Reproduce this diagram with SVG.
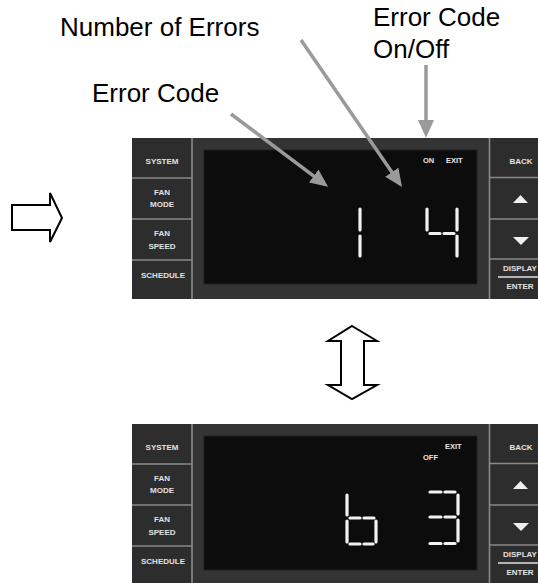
<svg xmlns="http://www.w3.org/2000/svg" width="538" height="583" viewBox="0 0 538 583">
<style>
.lbl{font-family:"Liberation Sans",Arial,sans-serif;font-size:26px;fill:#000}
.btn{font-family:"Liberation Sans",Arial,sans-serif;font-size:8px;font-weight:bold;fill:#e2e2e2;text-anchor:middle}
.scr{font-family:"Liberation Sans",Arial,sans-serif;font-size:7.5px;font-weight:bold;fill:#e8e8e8}
.sep{stroke:#8a8a8a;stroke-width:1.6}
.seg{stroke:#f2f2f2;stroke-width:3.2;stroke-linecap:round;fill:none}
.call{stroke:#9a9a9a;stroke-width:3.5;fill:none}
.big{fill:#fff;stroke:#000;stroke-width:2;stroke-linejoin:miter}
</style>
<defs>
<marker id="ah" markerUnits="userSpaceOnUse" markerWidth="20" markerHeight="18" refX="6" refY="8" orient="auto">
<path d="M0,0 L18,8 L0,16 z" fill="#9a9a9a"/>
</marker>
<g id="frame">
<rect x="132" y="0" width="406" height="161" fill="#343434"/>
<rect x="132" y="0" width="60" height="161" fill="#2d2d2d"/>
<rect x="490" y="0" width="48" height="161" fill="#2d2d2d"/>
<line class="sep" x1="192" y1="0" x2="192" y2="161"/>
<line class="sep" x1="489.5" y1="0" x2="489.5" y2="161"/>
<line class="sep" x1="132" y1="40" x2="192" y2="40"/>
<line class="sep" x1="132" y1="81" x2="192" y2="81"/>
<line class="sep" x1="132" y1="122" x2="192" y2="122"/>
<line class="sep" x1="490" y1="39.5" x2="538" y2="39.5"/>
<line class="sep" x1="490" y1="81" x2="538" y2="81"/>
<line class="sep" x1="490" y1="121" x2="538" y2="121"/>
<rect x="204" y="12" width="273" height="134" fill="#0c0c0c" stroke="#1e1e1e" stroke-width="1"/>
<polygon points="513,65 528,65 520.5,57" fill="#eeeeee"/>
<polygon points="513,99 529,99 521,107" fill="#eeeeee"/>
<line x1="498" y1="139" x2="538" y2="139" stroke="#e0e0e0" stroke-width="1.6"/>
</g>
</defs>

<g id="labels">
<text class="lbl" x="60" y="36">Number of Errors</text>
<text class="lbl" x="92" y="102">Error Code</text>
<text class="lbl" x="373" y="26">Error Code</text>
<text class="lbl" x="373" y="58">On/Off</text>
</g>

<g id="arrow-right">
<polygon class="big" points="12,205 50,205 50,193 62,218 50,242 50,230 12,230"/>
</g>

<g id="panel-top" transform="translate(0,138)">
<use href="#frame"/>
<text class="btn" x="162" y="26">SYSTEM</text>
<text class="btn" x="162" y="57">FAN</text>
<text class="btn" x="162" y="69">MODE</text>
<text class="btn" x="162" y="97.5">FAN</text>
<text class="btn" x="162" y="111">SPEED</text>
<text class="btn" x="163" y="140">SCHEDULE</text>
<text class="btn" x="521" y="26">BACK</text>
<text class="btn" x="503" y="133" style="text-anchor:start">DISPLAY</text>
<text class="btn" x="520" y="151">ENTER</text>
<text class="scr" x="423" y="25">ON</text>
<text class="scr" x="446" y="25">EXIT</text>
</g>
<g id="digits-top">
<path class="seg" d="M360,209 V230 M360,236 V256"/>
<path class="seg" d="M427,209 V230 M430,233.5 H440 M444,233.5 H454 M457,209 V230 M457,236 V256"/>
</g>

<g id="arrow-updown">
<polygon class="big" points="352,326 377,341 364,341 364,385 377,385 352,399 328,385 341,385 341,341 328,341"/>
</g>

<g id="panel-bottom" transform="translate(0,424)">
<use href="#frame"/>
<text class="btn" x="162" y="26">SYSTEM</text>
<text class="btn" x="162" y="57">FAN</text>
<text class="btn" x="162" y="69">MODE</text>
<text class="btn" x="162" y="97.5">FAN</text>
<text class="btn" x="162" y="111">SPEED</text>
<text class="btn" x="163" y="140">SCHEDULE</text>
<text class="btn" x="521" y="26">BACK</text>
<text class="btn" x="503" y="133" style="text-anchor:start">DISPLAY</text>
<text class="btn" x="520" y="151">ENTER</text>
<text class="scr" x="445" y="25">EXIT</text>
<text class="scr" x="423" y="36">OFF</text>
</g>
<g id="digits-bottom">
<path class="seg" d="M347,495 V515 M347,521 V542 M350,518 H360 M364,518 H374 M376,521 V542 M350,544 H360 M364,544 H373"/>
<path class="seg" d="M430,492 H441 M445,492 H455 M458,495 V514 M458,520 V541 M430,517 H441 M445,517 H455 M430,543.5 H441 M445,543.5 H455"/>
</g>

<g id="connectors">
<line class="call" x1="231" y1="114" x2="318.5" y2="179.6" marker-end="url(#ah)"/>
<line class="call" x1="301" y1="40" x2="395.2" y2="177.1" marker-end="url(#ah)"/>
<line class="call" x1="426" y1="65" x2="426" y2="126" marker-end="url(#ah)"/>
</g>
</svg>
